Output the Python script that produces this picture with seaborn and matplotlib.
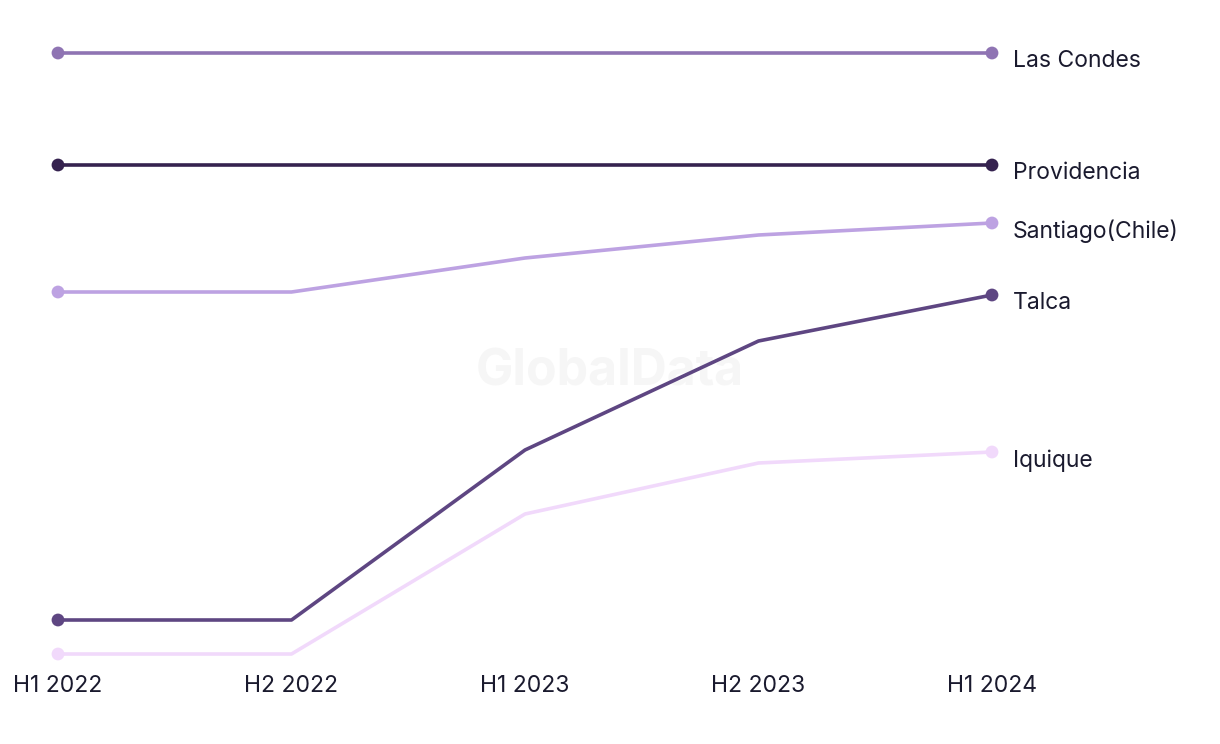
import pandas as pd
import seaborn as sns
import matplotlib.pyplot as plt

# --- DATA ---
periods = ['H1 2022', 'H2 2022', 'H1 2023', 'H2 2023', 'H1 2024']
las_condes = [607, 607, 607, 607, 607]
providencia = [495, 495, 495, 495, 495]
santiago = [368, 368, 402, 425, 437]
talca = [40, 40, 210, 319, 365]
iquique = [6, 6, 146, 197, 208]

series = {
    'Las Condes': las_condes,
    'Providencia': providencia,
    'Santiago(Chile)': santiago,
    'Talca': talca,
    'Iquique': iquique,
}
colors = {
    'Las Condes': '#8f74b3',
    'Providencia': '#35224f',
    'Santiago(Chile)': '#bda2e2',
    'Talca': '#5e4682',
    'Iquique': '#f1d9fb',
}

rows = []
for name, vals in series.items():
    for i, v in enumerate(vals):
        rows.append({'city': name, 'idx': i, 'value': v})
df = pd.DataFrame(rows)
# dots only on first and last period
ends = df[df['idx'].isin([0, len(periods) - 1])]

# --- PLOT ---
sns.set_theme(style="white")
plt.rcParams['font.family'] = ['Inter', 'DejaVu Sans']

fig = plt.figure(figsize=(12.2, 7.44), dpi=100)
ax = fig.add_axes([58 / 1220, (744 - 654) / 744, (992 - 58) / 1220, (654 - 53) / 744])

sns.lineplot(data=df, x='idx', y='value', hue='city', palette=colors,
             linewidth=2.6, legend=False, ax=ax)
sns.scatterplot(data=ends, x='idx', y='value', hue='city', palette=colors,
                s=85, linewidth=0, legend=False, ax=ax, zorder=3)
for line in ax.lines:
    line.set_clip_on(False)
for coll in ax.collections:
    coll.set_clip_on(False)

ax.set_xlim(0, len(periods) - 1)
ax.set_ylim(min(iquique), max(las_condes))

# labels at the end of each line
for name, vals in series.items():
    ax.annotate(name, xy=(len(periods) - 1, vals[-1]), xytext=(15, -6),
                textcoords='offset points', va='center', ha='left',
                fontsize=16.5, color='#1a1a2e', annotation_clip=False)

ax.set_xticks(range(len(periods)))
ax.set_xticklabels(periods, fontsize=16.5, color='#1a1a2e')
ax.tick_params(axis='x', length=0, pad=15)
ax.set_yticks([])
ax.set_xlabel('')
ax.set_ylabel('')
for s in ax.spines.values():
    s.set_visible(False)

# watermark, behind the lines
ax.text((610 - 58) / (992 - 58), (654 - 372) / (654 - 53), 'GlobalData',
        transform=ax.transAxes, ha='center', va='center',
        fontsize=36, fontweight='bold', color='#f6f6f6', zorder=0)

fig.savefig('out.png', dpi=100)
